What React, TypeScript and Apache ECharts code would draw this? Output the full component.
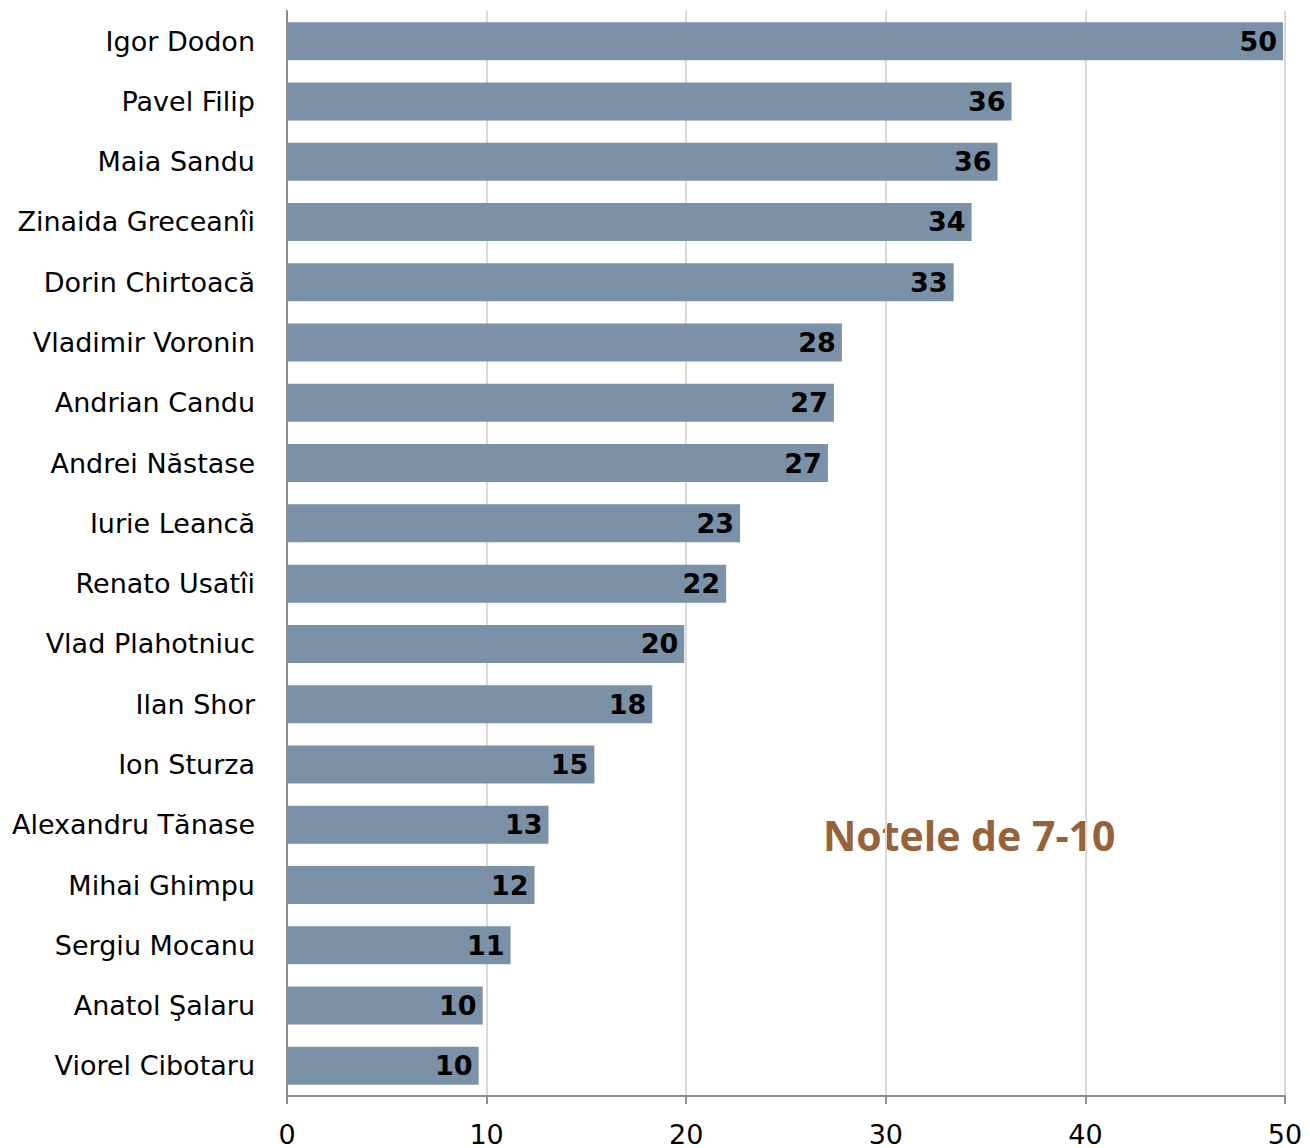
import React, { useEffect, useRef } from "react";
import * as echarts from "echarts";

const categories = [
  "Igor Dodon",
  "Pavel Filip",
  "Maia Sandu",
  "Zinaida Greceanîi",
  "Dorin Chirtoacă",
  "Vladimir Voronin",
  "Andrian Candu",
  "Andrei Năstase",
  "Iurie Leancă",
  "Renato Usatîi",
  "Vlad Plahotniuc",
  "Ilan Shor",
  "Ion Sturza",
  "Alexandru Tănase",
  "Mihai Ghimpu",
  "Sergiu Mocanu",
  "Anatol Şalaru",
  "Viorel Cibotaru",
];

const values = [
  49.9, 36.3, 35.6, 34.3, 33.4, 27.8, 27.4, 27.1, 22.7, 22.0, 19.9, 18.3, 15.4,
  13.1, 12.4, 11.2, 9.8, 9.6,
];

const xTicks = [0, 10, 20, 30, 40, 50];
const titleText = "Notele de 7-10";

export default function App() {
  const ref = useRef<HTMLDivElement>(null);
  useEffect(() => {
    if (!ref.current) return;
    const chart = echarts.init(ref.current, null, { renderer: "svg" });
    chart.setOption({
      animation: false,
      backgroundColor: "#ffffff",
      grid: { left: 287, right: 25, top: 11, bottom: 46, containLabel: false },
      xAxis: {
        type: "value",
        min: xTicks[0],
        max: xTicks[xTicks.length - 1],
        interval: 10,
        axisLine: { show: true, lineStyle: { color: "#8c8c8c", width: 2 } },
        axisTick: { show: true, length: 8, lineStyle: { color: "#8c8c8c", width: 2 } },
        axisLabel: {
          color: "#000000",
          fontFamily: "DejaVu Sans",
          fontSize: 27,
          margin: 25,
        },
        splitLine: { show: true, lineStyle: { color: "#d9d9d9", width: 2 } },
      },
      yAxis: {
        type: "category",
        data: categories,
        inverse: true,
        axisLine: { show: true, lineStyle: { color: "#8c8c8c", width: 2 } },
        axisTick: { show: false },
        axisLabel: {
          color: "#000000",
          fontFamily: "DejaVu Sans",
          fontSize: 27,
          margin: 32,
        },
        splitLine: { show: false },
      },
      series: [
        {
          type: "bar",
          data: values,
          barCategoryGap: "37%",
          itemStyle: { color: "#7a91a7" },
          label: {
            show: true,
            position: "insideRight",
            distance: 6,
            color: "#000000",
            fontFamily: "DejaVu Sans",
            fontWeight: "bold",
            fontSize: 27,
            formatter: (p: any) => String(Math.round(p.value)),
          },
        },
      ],
      graphic: [
        {
          type: "text",
          left: 823,
          top: 814,
          style: {
            text: titleText,
            fill: "#956239",
            font: "bold 41px 'Open Sans'",
          },
        },
      ],
    });
    return () => chart.dispose();
  }, []);
  return (
    <div
      ref={ref}
      style={{ position: "fixed", left: 0, top: 0, width: 1310, height: 1148 }}
    />
  );
}
